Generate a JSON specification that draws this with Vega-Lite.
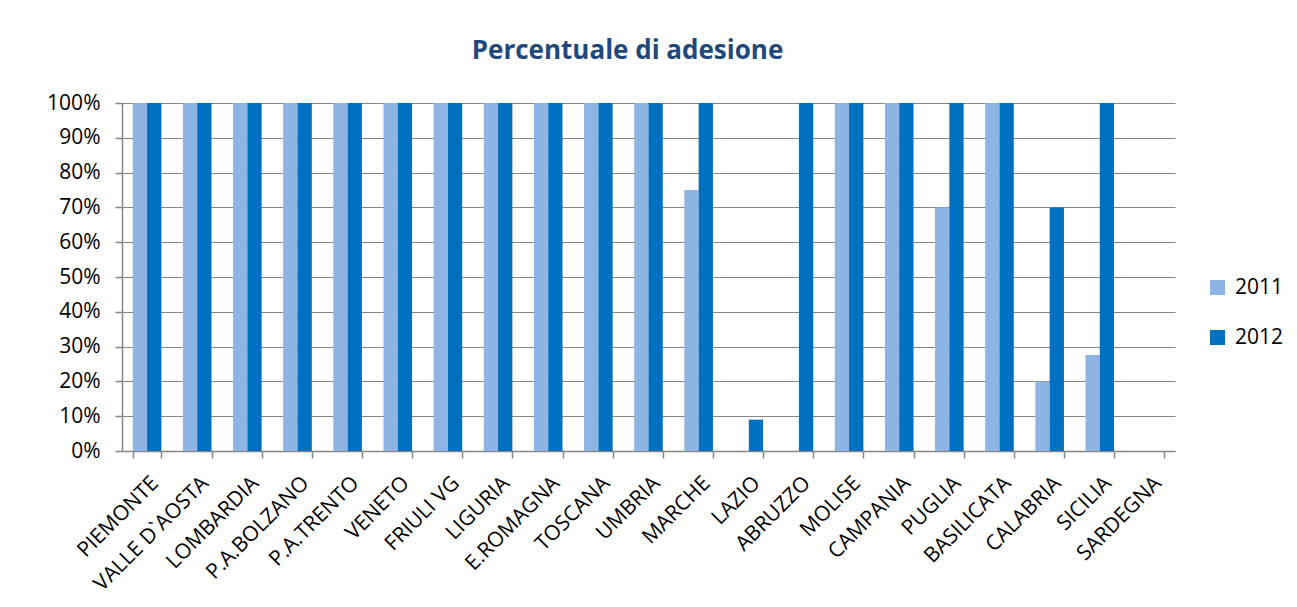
{
  "$schema": "https://vega.github.io/schema/vega-lite/v6.json",
  "autosize": {"type": "none"},
  "padding": {"left": 122, "top": 103, "right": 122, "bottom": 156},
  "width": 1053,
  "height": 348,
  "background": "white",
  "title": {"text": "Percentuale di adesione", "font": "Open Sans", "fontSize": 26, "fontWeight": "bold", "color": "#1F497D", "anchor": "middle", "dx": -21, "baseline": "alphabetic", "offset": 7},
  "data": {"values": [
    {"regione": "PIEMONTE", "anno": "2011", "valore": 1}, {"regione": "PIEMONTE", "anno": "2012", "valore": 1},
    {"regione": "VALLE D`AOSTA", "anno": "2011", "valore": 1}, {"regione": "VALLE D`AOSTA", "anno": "2012", "valore": 1},
    {"regione": "LOMBARDIA", "anno": "2011", "valore": 1}, {"regione": "LOMBARDIA", "anno": "2012", "valore": 1},
    {"regione": "P.A.BOLZANO", "anno": "2011", "valore": 1}, {"regione": "P.A.BOLZANO", "anno": "2012", "valore": 1},
    {"regione": "P.A.TRENTO", "anno": "2011", "valore": 1}, {"regione": "P.A.TRENTO", "anno": "2012", "valore": 1},
    {"regione": "VENETO", "anno": "2011", "valore": 1}, {"regione": "VENETO", "anno": "2012", "valore": 1},
    {"regione": "FRIULI VG", "anno": "2011", "valore": 1}, {"regione": "FRIULI VG", "anno": "2012", "valore": 1},
    {"regione": "LIGURIA", "anno": "2011", "valore": 1}, {"regione": "LIGURIA", "anno": "2012", "valore": 1},
    {"regione": "E.ROMAGNA", "anno": "2011", "valore": 1}, {"regione": "E.ROMAGNA", "anno": "2012", "valore": 1},
    {"regione": "TOSCANA", "anno": "2011", "valore": 1}, {"regione": "TOSCANA", "anno": "2012", "valore": 1},
    {"regione": "UMBRIA", "anno": "2011", "valore": 1}, {"regione": "UMBRIA", "anno": "2012", "valore": 1},
    {"regione": "MARCHE", "anno": "2011", "valore": 0.75}, {"regione": "MARCHE", "anno": "2012", "valore": 1},
    {"regione": "LAZIO", "anno": "2011", "valore": 0}, {"regione": "LAZIO", "anno": "2012", "valore": 0.09},
    {"regione": "ABRUZZO", "anno": "2011", "valore": 0}, {"regione": "ABRUZZO", "anno": "2012", "valore": 1},
    {"regione": "MOLISE", "anno": "2011", "valore": 1}, {"regione": "MOLISE", "anno": "2012", "valore": 1},
    {"regione": "CAMPANIA", "anno": "2011", "valore": 1}, {"regione": "CAMPANIA", "anno": "2012", "valore": 1},
    {"regione": "PUGLIA", "anno": "2011", "valore": 0.7}, {"regione": "PUGLIA", "anno": "2012", "valore": 1},
    {"regione": "BASILICATA", "anno": "2011", "valore": 1}, {"regione": "BASILICATA", "anno": "2012", "valore": 1},
    {"regione": "CALABRIA", "anno": "2011", "valore": 0.2}, {"regione": "CALABRIA", "anno": "2012", "valore": 0.7},
    {"regione": "SICILIA", "anno": "2011", "valore": 0.276}, {"regione": "SICILIA", "anno": "2012", "valore": 1},
    {"regione": "SARDEGNA", "anno": "2011", "valore": 0}, {"regione": "SARDEGNA", "anno": "2012", "valore": 0}
  ]},
  "mark": {"type": "bar"},
  "encoding": {
    "x": {
      "field": "regione", "type": "nominal", "sort": null,
      "scale": {"paddingInner": 0.43, "paddingOuter": 0.215},
      "axis": {
        "title": null, "labelAngle": -45, "labelAlign": "right", "labelBaseline": "top",
        "labelPadding": 14, "labelFont": "Open Sans", "labelFontSize": 21, "labelColor": "#000000",
        "labelLimit": 300, "labelOverlap": false,
        "tickBand": "extent", "tickSize": 7, "tickColor": "#868686", "tickWidth": 1.5,
        "domainColor": "#868686", "domainWidth": 1.5, "grid": false
      }
    },
    "xOffset": {"field": "anno", "type": "nominal", "scale": {"paddingInner": 0}},
    "y": {
      "field": "valore", "type": "quantitative",
      "scale": {"domain": [0, 1]},
      "axis": {
        "title": null, "format": ".0%", "values": [0, 0.1, 0.2, 0.3, 0.4, 0.5, 0.6, 0.7, 0.8, 0.9, 1],
        "labelFont": "Open Sans", "labelFontSize": 21, "labelColor": "#000000", "labelPadding": 15,
        "tickSize": 7, "tickColor": "#868686", "tickWidth": 1.5,
        "domainColor": "#868686", "domainWidth": 1.5,
        "grid": true, "gridColor": "#868686", "gridWidth": 1.2
      }
    },
    "color": {
      "field": "anno", "type": "nominal",
      "scale": {"domain": ["2011", "2012"], "range": ["#8EB4E3", "#0070C0"]},
      "legend": {
        "title": null, "orient": "none", "legendX": 1085, "legendY": 174, "padding": 0,
        "symbolType": "square", "symbolSize": 225, "symbolStrokeWidth": 0,
        "labelFont": "Open Sans", "labelFontSize": 21, "labelColor": "#000000",
        "labelOffset": 7, "rowPadding": 28
      }
    }
  },
  "config": {"view": {"stroke": null}}
}
